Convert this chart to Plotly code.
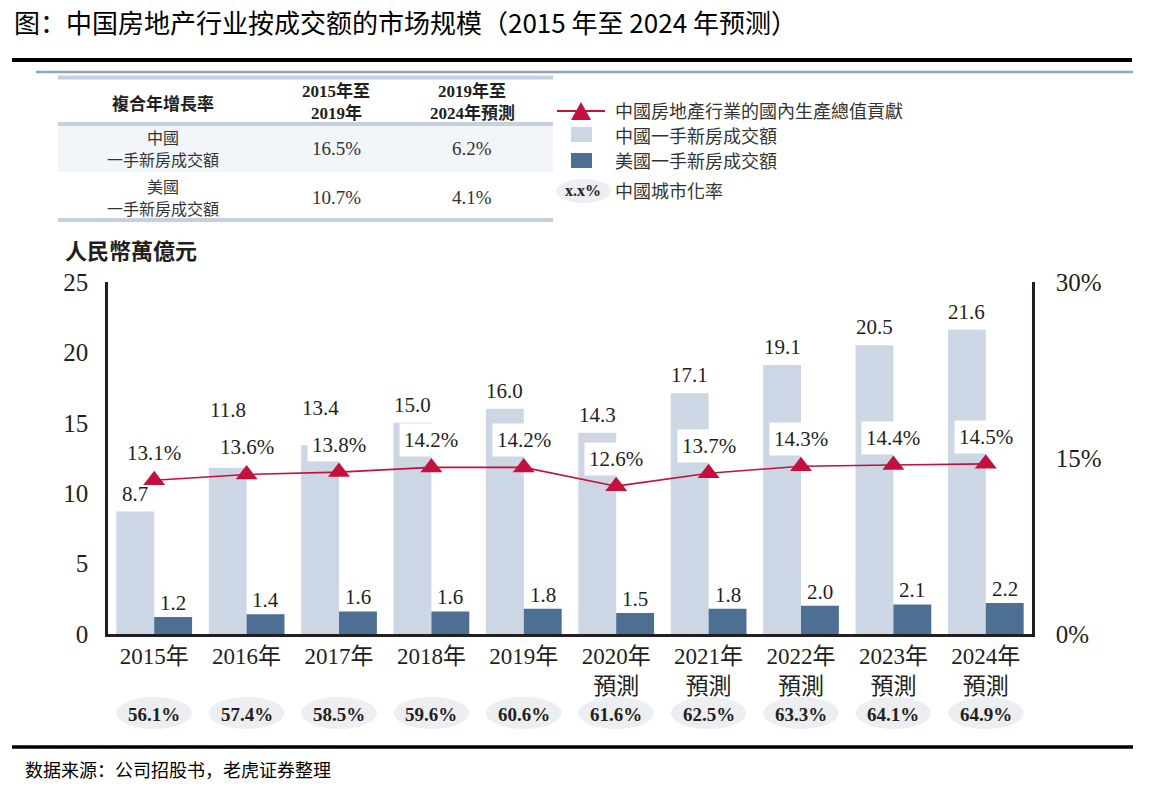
import plotly.graph_objects as go

# ---------------- data ----------------
years = ["2015年", "2016年", "2017年", "2018年", "2019年",
         "2020年<br>預測", "2021年<br>預測", "2022年<br>預測", "2023年<br>預測", "2024年<br>預測"]
china_new_home = [8.7, 11.8, 13.4, 15.0, 16.0, 14.3, 17.1, 19.1, 20.5, 21.6]
us_new_home = [1.2, 1.4, 1.6, 1.6, 1.8, 1.5, 1.8, 2.0, 2.1, 2.2]
gdp_contribution = [13.1, 13.6, 13.8, 14.2, 14.2, 12.6, 13.7, 14.3, 14.4, 14.5]
urbanization = [56.1, 57.4, 58.5, 59.6, 60.6, 61.6, 62.5, 63.3, 64.1, 64.9]

left_ticks = [0, 5, 10, 15, 20, 25]
right_ticks = [0, 15, 30]
right_tick_text = ["0%", "15%", "30%"]

cagr_header = [["複合年增長率"], ["2015年至", "2019年"], ["2019年至", "2024年預測"]]
cagr_rows = [
    [["中國", "一手新房成交額"], ["16.5%"], ["6.2%"]],
    [["美國", "一手新房成交額"], ["10.7%"], ["4.1%"]],
]

title_text = "图：中国房地产行业按成交额的市场规模（2015 年至 2024 年预测）"
source_text = "数据来源：公司招股书，老虎证券整理"
y_title = "人民幣萬億元"
legend_names = ["中國房地產行業的國內生產總值貢獻", "中國一手新房成交額", "美國一手新房成交額", "中國城市化率"]

# ---------------- style ----------------
W, H = 1163, 786
LIGHT = "#ccd6e4"
DARK = "#4c6f93"
RED = "#c50f3c"
TXT = "#231f20"
SERIF = "Liberation Serif, Noto Sans CJK TC, serif"
SANS_TC = "Noto Sans CJK TC, Noto Sans CJK SC, sans-serif"
SANS_SC = "Noto Sans CJK SC, sans-serif"

def px(x):
    return x / W

def py(y):
    return 1 - y / H

PLOT_L, PLOT_R, PLOT_T, PLOT_B = 108, 1032, 282, 634
LEFT_MAX, RIGHT_MAX = 25, 30
ppu_left = (PLOT_B - PLOT_T) / LEFT_MAX
ppu_right = (PLOT_B - PLOT_T) / RIGHT_MAX

xs = list(range(len(years)))

fig = go.Figure()
fig.add_trace(go.Bar(x=xs, y=china_new_home, name=legend_names[1], marker=dict(color=LIGHT, line=dict(width=0)),
                     showlegend=False, hoverinfo="skip"))
fig.add_trace(go.Bar(x=xs, y=us_new_home, name=legend_names[2], marker=dict(color=DARK, line=dict(width=0)),
                     showlegend=False, hoverinfo="skip"))
fig.add_trace(go.Scatter(x=xs, y=gdp_contribution, yaxis="y2", mode="lines+markers", name=legend_names[0],
                         line=dict(color=RED, width=1.6),
                         marker=dict(symbol="triangle-up", size=19, color=RED, line=dict(width=0)),
                         showlegend=False, hoverinfo="skip"))

ann = []
shapes = []

# GDP labels (white boxes)
GDP_SHIFT = 27
for i, v in enumerate(gdp_contribution):
    ann.append(dict(x=i, y=v, xref="x", yref="y2", text=f"{v:.1f}%", showarrow=False,
                    yshift=GDP_SHIFT, xanchor="center", yanchor="middle", bgcolor="white", borderpad=4,
                    font=dict(family=SERIF, size=21, color=TXT)))

# China bar value labels (moved above GDP label if they collide)
CH_SHIFT = 18
for i, v in enumerate(china_new_home):
    normal = v * ppu_left + CH_SHIFT
    gdp_lab = gdp_contribution[i] * ppu_right + GDP_SHIFT
    if abs(normal - gdp_lab) < 28:
        ann.append(dict(x=i, y=gdp_contribution[i], xref="x", yref="y2", text=f"{v:.1f}", showarrow=False,
                        xshift=-19, yshift=GDP_SHIFT + 37, xanchor="center", yanchor="middle",
                        font=dict(family=SERIF, size=21, color=TXT)))
    else:
        ann.append(dict(x=i, y=v, xref="x", yref="y", text=f"{v:.1f}", showarrow=False,
                        xshift=-19, yshift=CH_SHIFT, xanchor="center", yanchor="middle",
                        font=dict(family=SERIF, size=21, color=TXT)))

# US bar value labels
for i, v in enumerate(us_new_home):
    ann.append(dict(x=i, y=v, xref="x", yref="y", text=f"{v:.1f}", showarrow=False,
                    xshift=19, yshift=14, xanchor="center", yanchor="middle",
                    font=dict(family=SERIF, size=21, color=TXT)))

# Urbanization ellipses
for i, v in enumerate(urbanization):
    shapes.append(dict(type="circle", xref="x", yref="paper", x0=i - 0.41, x1=i + 0.41,
                       y0=py(729), y1=py(697), fillcolor="#eceef1", line=dict(width=0), layer="below"))
    ann.append(dict(x=i, y=py(714), xref="x", yref="paper", text=f"<b>{v:.1f}%</b>", showarrow=False,
                    xanchor="center", yanchor="middle", font=dict(family=SERIF, size=19, color=TXT)))

# Decorative rules
shapes.append(dict(type="line", xref="paper", yref="paper", x0=px(12), x1=px(1132), y0=py(60), y1=py(60),
                   line=dict(color="black", width=4)))
shapes.append(dict(type="line", xref="paper", yref="paper", x0=px(36), x1=px(1133), y0=py(72), y1=py(72),
                   line=dict(color="#8ea3bc", width=2.5)))
shapes.append(dict(type="line", xref="paper", yref="paper", x0=px(12), x1=px(1133), y0=py(747), y1=py(747),
                   line=dict(color="black", width=3.5)))

# Title and source
ann.append(dict(x=px(12), y=py(22), xref="paper", yref="paper", text=title_text, showarrow=False,
                xanchor="left", yanchor="middle", font=dict(family=SANS_SC, size=26, color="black")))
ann.append(dict(x=px(23), y=py(769), xref="paper", yref="paper", text=source_text, showarrow=False,
                xanchor="left", yanchor="middle", font=dict(family=SANS_SC, size=18, color="black")))

# Y-axis title
ann.append(dict(x=px(63), y=py(249), xref="paper", yref="paper", text=f"<b>{y_title}</b>", showarrow=False,
                xanchor="left", yanchor="middle", font=dict(family=SANS_TC, size=22, color=TXT)))

# CAGR table
T_L, T_R = 58, 553
shapes.append(dict(type="rect", xref="paper", yref="paper", x0=px(T_L), x1=px(T_R), y0=py(172), y1=py(126),
                   fillcolor="#f2f5f9", line=dict(width=0), layer="below"))
for yy in (77.5, 124, 220):
    shapes.append(dict(type="line", xref="paper", yref="paper", x0=px(T_L), x1=px(T_R), y0=py(yy), y1=py(yy),
                       line=dict(color="#c5cfdd", width=4)))
col_x = [163, 336, 472]

def cell_lines(lines, center_y, step):
    n = len(lines)
    return [(ln, center_y + (k - (n - 1) / 2) * step) for k, ln in enumerate(lines)]

for j, h in enumerate(cagr_header):
    for ln, yy in cell_lines(h, 102, 22):
        ann.append(dict(x=px(col_x[j]), y=py(yy), xref="paper", yref="paper", text=f"<b>{ln}</b>",
                        showarrow=False, xanchor="center", yanchor="middle",
                        font=dict(family=SERIF if j else SANS_TC, size=17, color=TXT)))
row_y = [148, 197]
for r, row in enumerate(cagr_rows):
    for j, cell in enumerate(row):
        for ln, yy in cell_lines(cell, row_y[r], 22):
            ann.append(dict(x=px(col_x[j]), y=py(yy), xref="paper", yref="paper", text=ln, showarrow=False,
                            xanchor="center", yanchor="middle",
                            font=dict(family=SANS_TC if j == 0 else SERIF, size=16 if j == 0 else 19,
                                      color="#333")))

# Manual legend
LX = 613
shapes.append(dict(type="line", xref="paper", yref="paper", x0=px(557), x1=px(605), y0=py(111), y1=py(111),
                   line=dict(color=RED, width=2)))
shapes.append(dict(type="path", xref="paper", yref="paper",
                   path=f"M {px(571)},{py(120)} L {px(591)},{py(120)} L {px(581)},{py(102)} Z",
                   fillcolor=RED, line=dict(width=0)))
shapes.append(dict(type="rect", xref="paper", yref="paper", x0=px(571), x1=px(592), y0=py(142), y1=py(127),
                   fillcolor=LIGHT, line=dict(width=0)))
shapes.append(dict(type="rect", xref="paper", yref="paper", x0=px(571), x1=px(592), y0=py(168), y1=py(153),
                   fillcolor=DARK, line=dict(width=0)))
shapes.append(dict(type="circle", xref="paper", yref="paper", x0=px(556), x1=px(611), y0=py(203), y1=py(179),
                   fillcolor="#eceef1", line=dict(width=0), layer="below"))
ann.append(dict(x=px(583), y=py(191), xref="paper", yref="paper", text="<b>x.x%</b>", showarrow=False,
                xanchor="center", yanchor="middle", font=dict(family=SERIF, size=16, color=TXT)))
for name, yy in zip(legend_names, [110, 135, 160, 190]):
    ann.append(dict(x=px(LX), y=py(yy), xref="paper", yref="paper", text=name, showarrow=False,
                    xanchor="left", yanchor="middle", font=dict(family=SANS_TC, size=18, color="#333")))

fig.update_layout(
    width=W, height=H,
    margin=dict(l=0, r=0, t=0, b=0, autoexpand=False),
    paper_bgcolor="white", plot_bgcolor="white",
    barmode="group", bargap=0.18, bargroupgap=0,
    showlegend=False,
    xaxis=dict(domain=[px(PLOT_L), px(PLOT_R)], range=[-0.5, len(years) - 0.5], automargin=False,
               tickvals=xs, ticktext=years, showgrid=False, zeroline=False,
               showline=True, linecolor=TXT, linewidth=2.5, ticks="",
               tickfont=dict(family=SERIF, size=23, color=TXT)),
    yaxis=dict(domain=[py(PLOT_B), py(PLOT_T)], range=[0, LEFT_MAX], tickvals=left_ticks, automargin=False,
               showgrid=False, zeroline=False, showline=True, linecolor=TXT, linewidth=2.5,
               ticks="", ticklabelstandoff=12, tickfont=dict(family=SERIF, size=25, color=TXT)),
    yaxis2=dict(overlaying="y", side="right", range=[0, RIGHT_MAX], tickvals=right_ticks, automargin=False,
                ticktext=right_tick_text, showgrid=False, zeroline=False, showline=True,
                linecolor=TXT, linewidth=2.5, ticks="", ticklabelstandoff=16,
                tickfont=dict(family=SERIF, size=25, color=TXT)),
    annotations=ann,
    shapes=shapes,
)

fig.write_html("out.html", config={"displayModeBar": False},
               post_script="document.body.style.margin='0';document.body.style.padding='0';")
